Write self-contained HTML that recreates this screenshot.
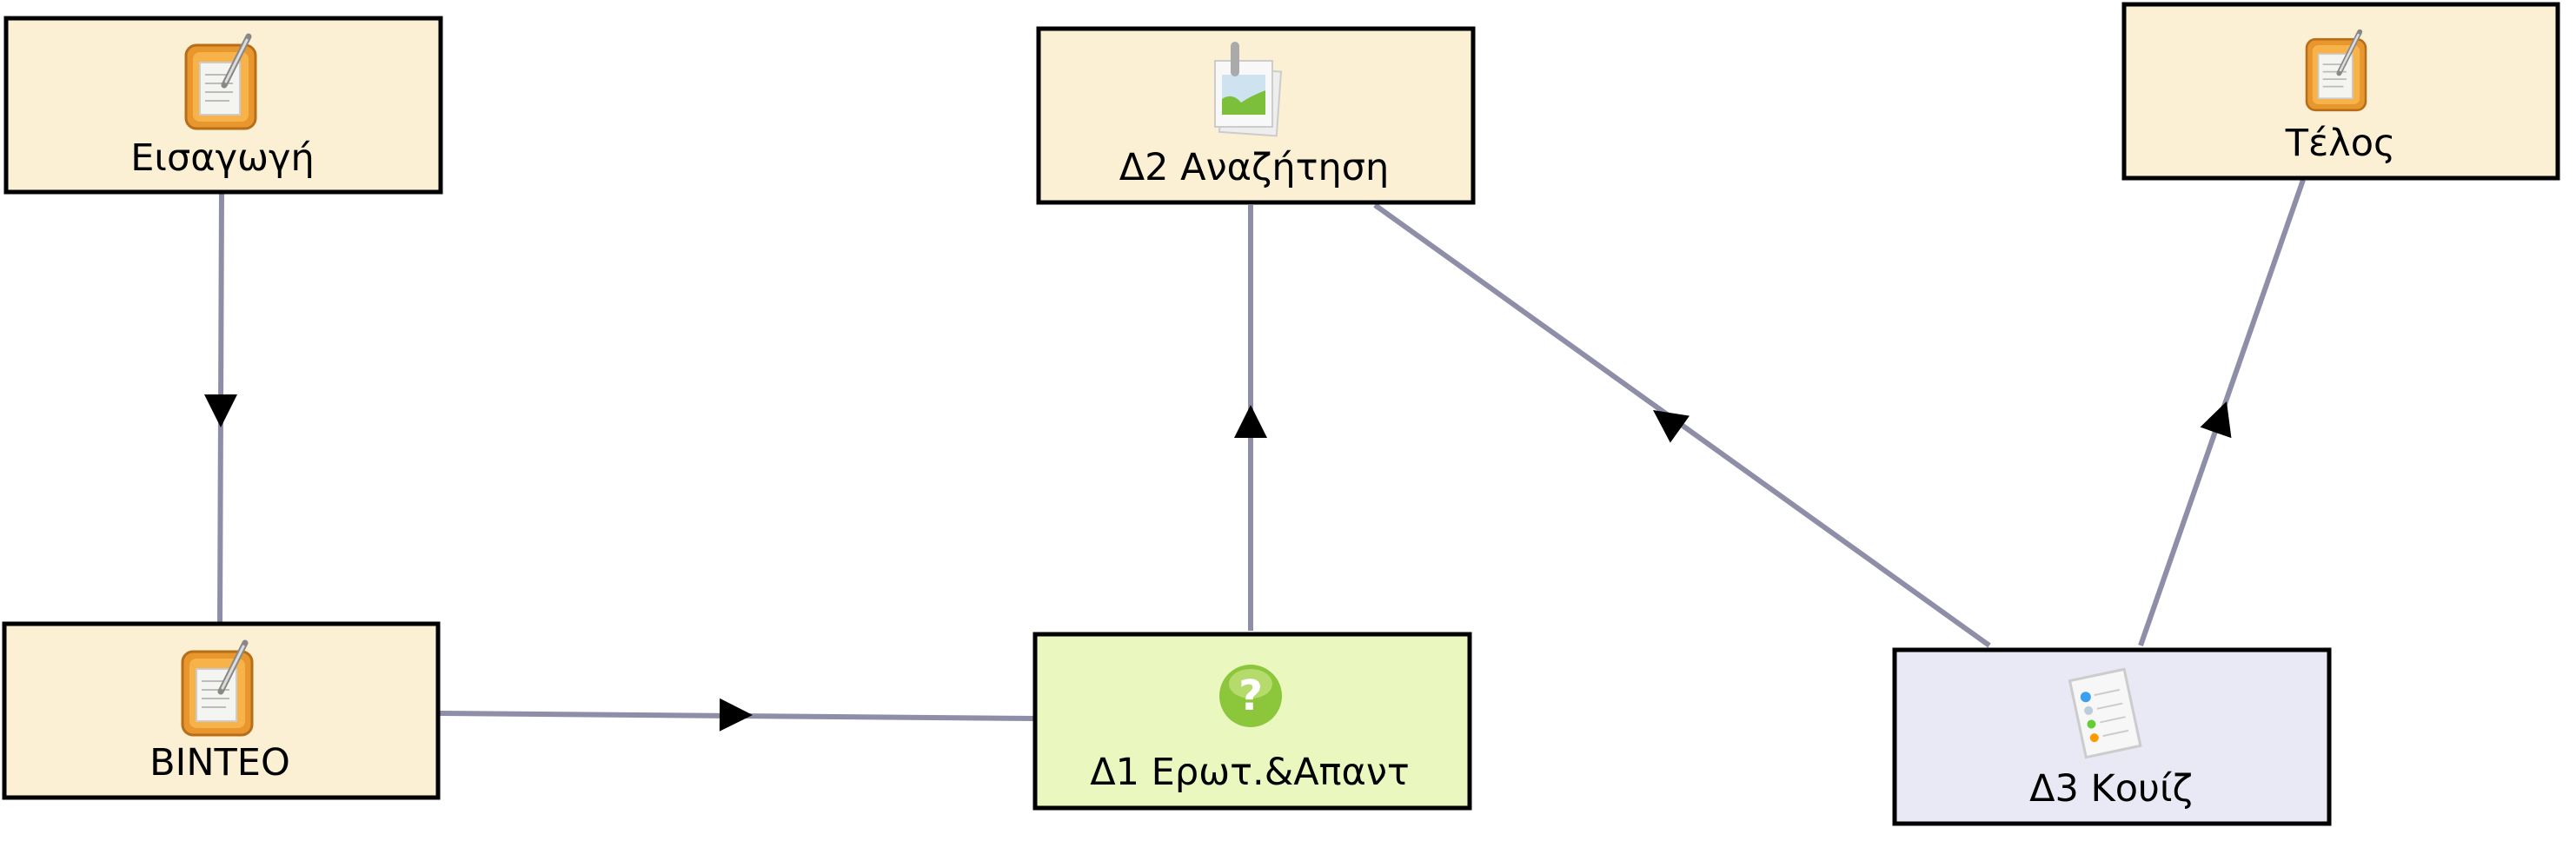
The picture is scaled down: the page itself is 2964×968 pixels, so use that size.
<!DOCTYPE html>
<html><head><meta charset="utf-8"><style>
html,body{margin:0;padding:0;background:#fff;}
svg{display:block;}
text{font-family:"DejaVu Sans","Liberation Sans",sans-serif;font-size:43px;fill:#000;text-anchor:middle;}
</style></head><body>
<svg width="2964" height="968" viewBox="0 0 2964 968" xmlns="http://www.w3.org/2000/svg">
<defs>
<g id="note">
  <rect x="-40" y="-48" width="80" height="96" rx="12" fill="#e8972e" stroke="#b86e18" stroke-width="3"/>
  <rect x="-32" y="-40" width="64" height="80" rx="8" fill="#f7b24a"/>
  <rect x="-24" y="-28" width="46" height="60" fill="#f4f4f0" stroke="#ccc" stroke-width="2"/>
  <g stroke="#bbb" stroke-width="2"><line x1="-18" y1="-14" x2="14" y2="-14"/><line x1="-18" y1="-4" x2="14" y2="-4"/><line x1="-18" y1="6" x2="14" y2="6"/><line x1="-18" y1="16" x2="10" y2="16"/></g>
  <line x1="4" y1="-2" x2="32" y2="-58" stroke="#888" stroke-width="7" stroke-linecap="round"/>
  <line x1="6" y1="-6" x2="30" y2="-54" stroke="#ddd" stroke-width="3" stroke-linecap="round"/>
</g>
</defs>

<g stroke="#8e8ea8" stroke-width="6" fill="none">
  <line x1="255" y1="222" x2="253" y2="718"/>
  <line x1="505" y1="821" x2="1191" y2="827"/>
  <line x1="1439" y1="726" x2="1439" y2="236"/>
  <line x1="2289" y1="743" x2="1582" y2="236"/>
  <line x1="2463" y1="743" x2="2650" y2="207"/>
</g>
<g fill="#000">
  <polygon points="0,0 -38,-19 -38,19" transform="translate(254,492) rotate(90)"/>
  <polygon points="0,0 -38,-19 -38,19" transform="translate(866,823) rotate(0.4)"/>
  <polygon points="0,0 -38,-19 -38,19" transform="translate(1439,466) rotate(-90)"/>
  <polygon points="0,0 -38,-19 -38,19" transform="translate(1902,472) rotate(-144.4)"/>
  <polygon points="0,0 -38,-19 -38,19" transform="translate(2562,462) rotate(-70.8)"/>
</g>

<g stroke="#000" stroke-width="5">
  <rect x="7" y="21" width="500" height="200" fill="#fcf0d4"/>
  <rect x="5" y="718" width="499" height="200" fill="#fcf0d4"/>
  <rect x="1195" y="33" width="500" height="200" fill="#fcf0d4"/>
  <rect x="2444" y="5" width="499" height="200" fill="#fcf0d4"/>
  <rect x="1191" y="730" width="500" height="200" fill="#eaf8c0"/>
  <rect x="2180" y="748" width="500" height="200" fill="#e9e8f5"/>
</g>

<use href="#note" transform="translate(254,100)"/>
<use href="#note" transform="translate(250,798)"/>
<use href="#note" transform="translate(2688,86) scale(0.85)"/>

<g transform="translate(1436,110)">
  <rect x="-30" y="-30" width="66" height="74" fill="#eee" stroke="#ccc" stroke-width="2" transform="rotate(4)"/>
  <rect x="-38" y="-40" width="66" height="76" fill="#f8f8f8" stroke="#ccc" stroke-width="2"/>
  <rect x="-30" y="-24" width="50" height="46" fill="#cfe2f0"/>
  <path d="M-30 22 L-30 4 Q-18 -4 -8 8 Q4 0 20 -6 L20 22 Z" fill="#7bbf3a"/>
  <rect x="-20" y="-62" width="10" height="40" rx="5" fill="#aaa"/>
</g>

<g transform="translate(1439,801)">
  <circle r="36" fill="#8cc63a"/>
  <ellipse cx="0" cy="-14" rx="25" ry="17" fill="#bfe07a" opacity="0.8"/>
  <text x="0" y="16" style="font-size:48px;fill:#fff;font-weight:bold">?</text>
</g>

<g transform="translate(2422,820) rotate(-12)">
  <rect x="-32" y="-44" width="64" height="90" fill="#f7f7f7" stroke="#ccc" stroke-width="3"/>
  <circle cx="-18" cy="-22" r="6" fill="#3aa0f0"/>
  <circle cx="-18" cy="-6" r="5" fill="#bcd"/>
  <circle cx="-18" cy="10" r="5" fill="#6c3"/>
  <circle cx="-18" cy="26" r="5" fill="#f90"/>
  <g stroke="#ccc" stroke-width="2"><line x1="-8" y1="-22" x2="22" y2="-22"/><line x1="-8" y1="-6" x2="22" y2="-6"/><line x1="-8" y1="10" x2="22" y2="10"/><line x1="-8" y1="26" x2="22" y2="26"/></g>
</g>

<text x="256" y="196">Εισαγωγή</text>
<text x="253" y="892">ΒΙΝΤΕΟ</text>
<text x="1443" y="207">Δ2 Αναζήτηση</text>
<text x="2693" y="179">Τέλος</text>
<text x="1438" y="903">Δ1 Ερωτ.&amp;Απαντ</text>
<text x="2429" y="922">Δ3 Κουίζ</text>
</svg>
</body></html>
